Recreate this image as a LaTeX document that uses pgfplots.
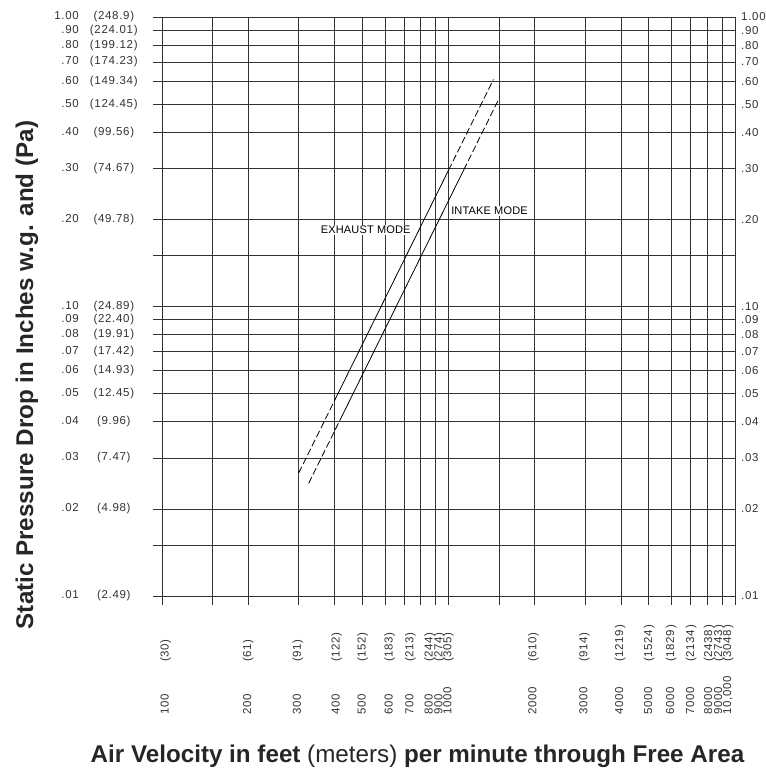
\documentclass[border=0pt]{standalone}
\usepackage{fontspec}
\setmainfont{Liberation Sans}
\newfontfamily\cad{Liberation Sans}[LetterSpace=6]
\newfontfamily\cadm{Liberation Sans}[LetterSpace=1.5]
\usepackage{pgfplots}
\pgfplotsset{compat=1.18}

% left tick label: inches w.g. and pascals
\newcommand\yl[2]{\makebox[30bp][r]{#1}\hspace{10bp}\makebox[50bp][c]{#2}}
% bottom tick label: feet/min and (m/min), rotated
\newcommand\xl[2]{\makebox[53bp][l]{#1}#2}
\newcommand\tickfont{\cad\fontsize{11.5bp}{13bp}\selectfont\color{black!80}}

\begin{document}
\begin{tikzpicture}
\useasboundingbox (-162bp,-173bp) rectangle (604bp,596bp);

% grid, lines and axis titles
\begin{axis}[scale only axis, width=573bp, height=579bp,
  xmode=log, ymode=log, xmin=100, xmax=10000, ymin=0.01, ymax=1,
  at={(0bp,0bp)}, anchor=south west,
  xtick={100,150,200,300,400,500,600,700,800,900,1000,1500,2000,3000,4000,5000,6000,7000,8000,9000,10000},
  ytick={0.01,0.015,0.02,0.03,0.04,0.05,0.06,0.07,0.08,0.09,0.1,0.15,0.2,0.3,0.4,0.5,0.6,0.7,0.8,0.9,1},
  xticklabels={}, yticklabels={},
  grid=major, major grid style={black!80, line width=0.7bp},
  axis line style={black!80, line width=0.8bp},
  tick align=outside, xtick pos=bottom, ytick pos=left,
  major tick length=9bp, tick style={black!80, line width=0.7bp},
  xlabel={\textbf{Air Velocity in feet} (meters) \textbf{per minute through Free Area}},
  xlabel style={at={(rel axis cs:0.446,-0.2884)}, anchor=base,
    font=\fontsize{24.2bp}{27bp}\selectfont, text=black!85},
  ylabel={\textbf{Static Pressure Drop in Inches w.g. and (Pa)}},
  ylabel style={at={(rel axis cs:-0.2251,0.3817)}, anchor=base,
    font=\fontsize{24.2bp}{27bp}\selectfont, text=black!85},
]
% exhaust mode
\addplot[black, line width=0.8bp, dash pattern=on 7bp off 3bp] coordinates {(300,0.0266) (400,0.0473)};
\addplot[black, line width=0.8bp] coordinates {(400,0.0473) (1000,0.2956)};
\addplot[black, line width=0.8bp, dash pattern=on 7bp off 3bp] coordinates {(1000,0.2956) (1435,0.6086)};
% intake mode
\addplot[black, line width=0.8bp, dash pattern=on 7bp off 3bp] coordinates {(325,0.0245) (420,0.0409)};
\addplot[black, line width=0.8bp] coordinates {(420,0.0409) (1130,0.2962)};
\addplot[black, line width=0.8bp, dash pattern=on 7bp off 3bp] coordinates {(1130,0.2962) (1500,0.5219)};

\node[fill=white, inner sep=1bp, font=\cadm\fontsize{11bp}{12bp}\selectfont] at (axis cs:514,0.1837) {EXHAUST MODE};
\node[fill=white, inner sep=1bp, font=\cadm\fontsize{11bp}{12bp}\selectfont] at (axis cs:1390,0.2138) {INTAKE MODE};
\end{axis}

% left and bottom tick labels
\begin{axis}[scale only axis, width=573bp, height=579bp,
  xmode=log, ymode=log, xmin=100, xmax=10000, ymin=0.01, ymax=1,
  at={(0bp,0bp)}, anchor=south west,
  axis line style={draw=none}, tick style={draw=none}, major tick length=0pt,
  xtick={103,200,298,407,502,623,737,859,930,1000,1978,2978,3976,5017,5984,7025,8119,8799,9455},
  xticklabels={\xl{100}{(30)},\xl{200}{(61)},\xl{300}{(91)},\xl{400}{(122)},\xl{500}{(152)},
    \xl{600}{(183)},\xl{700}{(213)},\xl{800}{(244)},\xl{900}{(274)},\xl{1000}{(305)},
    \xl{2000}{(610)},\xl{3000}{(914)},\xl{4000}{(1219)},\xl{5000}{(1524)},\xl{6000}{(1829)},
    \xl{7000}{(2134)},\xl{8000}{(2438)},\xl{9000}{(2743)},\xl{10,000}{(3048)}},
  xtick pos=bottom,
  xticklabel style={rotate=90, anchor=west, inner sep=0pt, font=\tickfont},
  xticklabel shift=119bp,
  ytick={0.01,0.02,0.03,0.04,0.05,0.06,0.07,0.08,0.09,0.1,0.2,0.3,0.4,0.5,0.6,0.7,0.8,0.9,1},
  yticklabels={\yl{.01}{(2.49)},\yl{.02}{(4.98)},\yl{.03}{(7.47)},\yl{.04}{(9.96)},
    \yl{.05}{(12.45)},\yl{.06}{(14.93)},\yl{.07}{(17.42)},\yl{.08}{(19.91)},\yl{.09}{(22.40)},
    \yl{.10}{(24.89)},\yl{.20}{(49.78)},\yl{.30}{(74.67)},\yl{.40}{(99.56)},\yl{.50}{(124.45)},
    \yl{.60}{(149.34)},\yl{.70}{(174.23)},\yl{.80}{(199.12)},\yl{.90}{(224.01)},\yl{1.00}{(248.9)}},
  ytick pos=left,
  yticklabel style={anchor=east, inner sep=0pt, font=\tickfont},
  yticklabel shift=23bp,
]
\end{axis}

% right tick labels
\begin{axis}[scale only axis, width=573bp, height=579bp,
  xmode=log, ymode=log, xmin=100, xmax=10000, ymin=0.01, ymax=1,
  at={(0bp,0bp)}, anchor=south west,
  axis line style={draw=none}, tick style={draw=none}, major tick length=0pt,
  xtick=\empty,
  ytick={0.01,0.02,0.03,0.04,0.05,0.06,0.07,0.08,0.09,0.1,0.2,0.3,0.4,0.5,0.6,0.7,0.8,0.9,1},
  yticklabels={.01,.02,.03,.04,.05,.06,.07,.08,.09,.10,.20,.30,.40,.50,.60,.70,.80,.90,1.00},
  ytick pos=right, yticklabel pos=right,
  yticklabel style={anchor=west, inner sep=0pt, font=\tickfont},
  yticklabel shift=6bp,
]
\end{axis}
\end{tikzpicture}
\end{document}
